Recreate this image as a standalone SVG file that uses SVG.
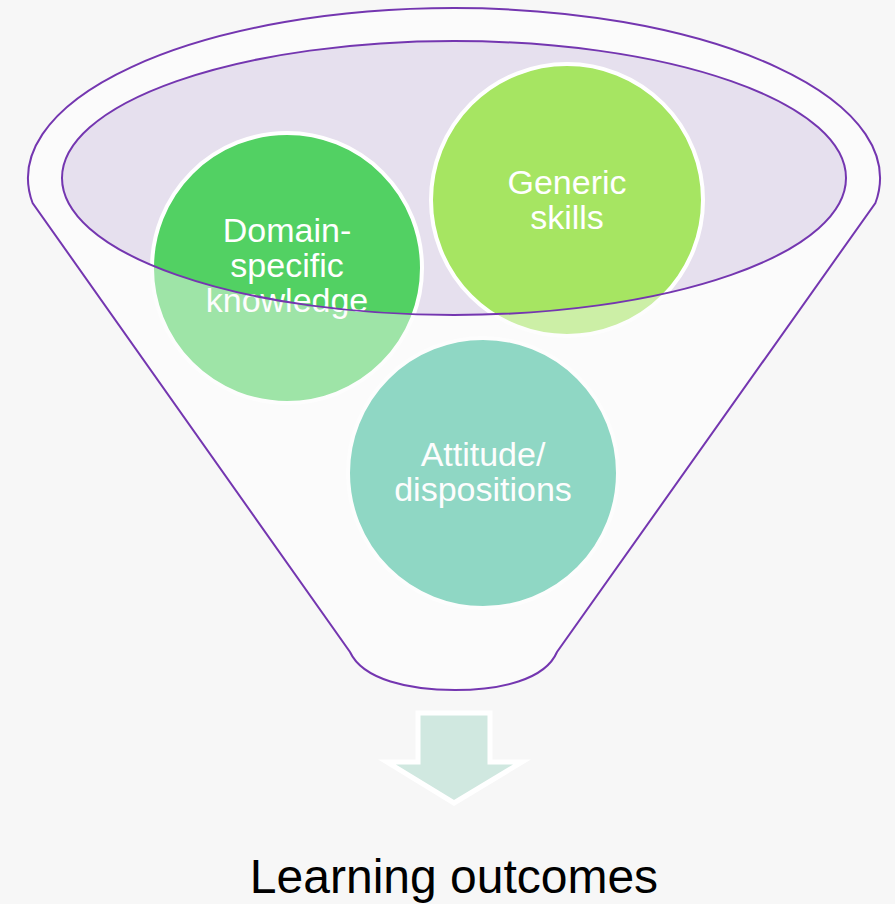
<svg xmlns="http://www.w3.org/2000/svg" width="895" height="904" viewBox="0 0 895 904">
  <style>
    .lbl { font-family: "Liberation Sans", Arial, sans-serif; font-size: 34px; fill: #ffffff; text-anchor: middle; }
    .ring { fill: none; stroke: #7436B0; stroke-width: 2; }
    .ball { stroke: #ffffff; stroke-width: 4; }
  </style>
  <defs>
    <path id="funnelShape" d="M32.6,203 A426,170 0 1 1 875.4,203 L557,652 C545,680 500,690 455,690 C410,690 363,680 350,652 Z"/>
  </defs>

  <rect width="895" height="904" fill="#F7F7F7"/>

  <!-- funnel body and mouth -->
  <g id="funnel">
    <use href="#funnelShape" fill="#FBFBFB"/>
    <ellipse cx="454" cy="178" rx="392" ry="137" fill="#E6E0EE"/>
  </g>

  <!-- ingredients -->
  <g id="domain">
    <circle class="ball" cx="287" cy="268" r="135" fill="#52D163"/>
    <text class="lbl" x="287" y="242">Domain-</text>
    <text class="lbl" x="287" y="277">specific</text>
    <text class="lbl" x="287" y="312">knowledge</text>
  </g>
  <g id="generic">
    <circle class="ball" cx="567" cy="200" r="136" fill="#A6E562"/>
    <text class="lbl" x="567" y="194">Generic</text>
    <text class="lbl" x="567" y="229">skills</text>
  </g>
  <g id="attitude">
    <circle class="ball" cx="483" cy="473" r="135" fill="#37BA98"/>
    <text class="lbl" x="483" y="466">Attitude/</text>
    <text class="lbl" x="483" y="501">dispositions</text>
  </g>

  <!-- translucent funnel wall over the parts below the mouth -->
  <path fill="#FAFAFA" fill-opacity="0.45" fill-rule="evenodd"
        d="M32.6,203 A426,170 0 1 1 875.4,203 L557,652 C545,680 500,690 455,690 C410,690 363,680 350,652 Z
           M62,178 A392,137 0 1 0 846,178 A392,137 0 1 0 62,178 Z"/>

  <!-- outlines -->
  <g id="outlines">
    <use href="#funnelShape" class="ring"/>
    <ellipse class="ring" cx="454" cy="178" rx="392" ry="137"/>
  </g>

  <!-- output arrow -->
  <g id="connectors">
    <path d="M418,713 L490,713 L490,762 L522,762 L454,803 L387,762 L418,762 Z" fill="#D0E8E0" stroke="#FFFFFF" stroke-width="5" stroke-linejoin="miter"/>
  </g>

  <g id="outcome">
    <text x="454" y="893" font-family="'Liberation Sans', Arial, sans-serif" font-size="48" fill="#000000" text-anchor="middle">Learning outcomes</text>
  </g>
</svg>
